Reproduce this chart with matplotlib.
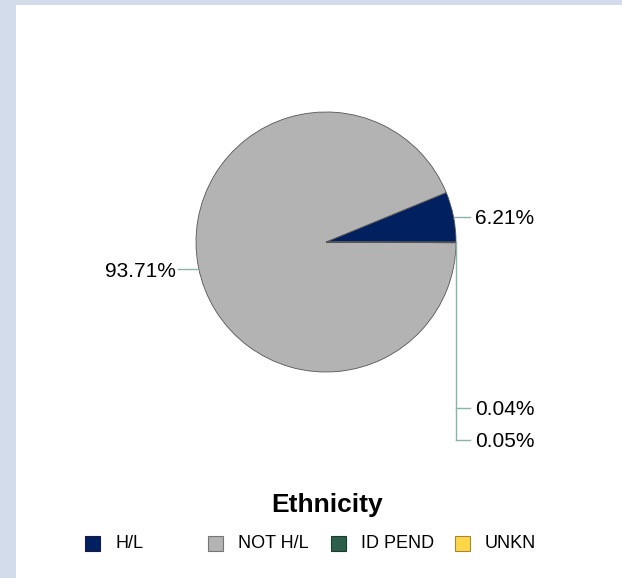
import numpy as np
import matplotlib.pyplot as plt
from matplotlib.patches import Rectangle

plt.rcParams['font.family'] = ['Liberation Sans', 'DejaVu Sans']

# data
categories = ['H/L', 'NOT H/L', 'ID PEND', 'UNKN']
values = [6.21, 93.71, 0.04, 0.05]
labels = ['6.21%', '93.71%', '0.04%', '0.05%']
colors = ['#002060', '#b3b3b3', '#2d5e4b', '#ffd54a']
edge_colors = ['#1a1a40', '#777777', '#1c3c30', '#a08a30']

W, H = 622, 578
fig = plt.figure(figsize=(W / 100, H / 100), dpi=100)
fig.patch.set_facecolor('#d3dcea')
fig.patches.append(Rectangle((16 / W, 0), 1 - 16 / W, 1 - 5 / H,
                             transform=fig.transFigure, facecolor='white',
                             edgecolor='none', zorder=-5))

# pie axes: centre (326, 242) px, radius 130 px
cx, cy, r = 326, 242, 130
ax = fig.add_axes([(cx - r) / W, (H - cy - r) / H, 2 * r / W, 2 * r / H])
ax.set_zorder(2)

wedges, _ = ax.pie(values, colors=colors, startangle=0, counterclock=True,
                   radius=1, wedgeprops=dict(edgecolor='#555555', linewidth=0.6))
for w in wedges:
    w.set_clip_on(False)
ax.set_xlim(-1, 1)
ax.set_ylim(-1, 1)
ax.set_aspect('equal')
ax.axis('off')

line_c = '#8ab3ab'
fs = 15
dy = -0.015  # small text nudge

# leader lines / labels
ang = np.deg2rad(values[0] * 3.6 / 2)
p = (np.cos(ang), np.sin(ang))
ax.plot([p[0], 1.11], [p[1], p[1]], color=line_c, lw=1, clip_on=False)
ax.text(1.145, p[1] + dy, labels[0], fontsize=fs, va='center', ha='left')

ang = np.deg2rad((values[0] + values[1] / 2) * 3.6)
p = (np.cos(ang), np.sin(ang))
ax.plot([p[0], -1.14], [p[1] - 0.02, p[1] - 0.02], color=line_c, lw=1, clip_on=False)
ax.text(-1.155, p[1] - 0.02 + dy, labels[1], fontsize=fs, va='center', ha='right')

ys = [(cy - 408) / r, (cy - 440) / r]
ax.plot([1.0, 1.0], [0, ys[1]], color=line_c, lw=1, clip_on=False)
for lab, yy in zip(labels[2:], ys):
    ax.plot([1.0, 1.108], [yy, yy], color=line_c, lw=1, clip_on=False)
    ax.text(1.145, yy + dy, lab, fontsize=fs, va='center', ha='left')

# title
fig.text(327 / W, 1 - 505 / H, 'Ethnicity', fontsize=19, fontweight='bold',
         ha='center', va='center')

# legend
sq_x = [85, 208, 331, 455]
ly = 543
for i, cat in enumerate(categories):
    fig.patches.append(Rectangle((sq_x[i] / W, (H - ly - 7.5) / H), 15 / W, 15 / H,
                                 transform=fig.transFigure, facecolor=colors[i],
                                 edgecolor=edge_colors[i], linewidth=0.8))
    fig.text((sq_x[i] + 30) / W, 1 - (ly + 1) / H, cat, fontsize=13, ha='left', va='center')

fig.savefig('out.png', dpi=100)
